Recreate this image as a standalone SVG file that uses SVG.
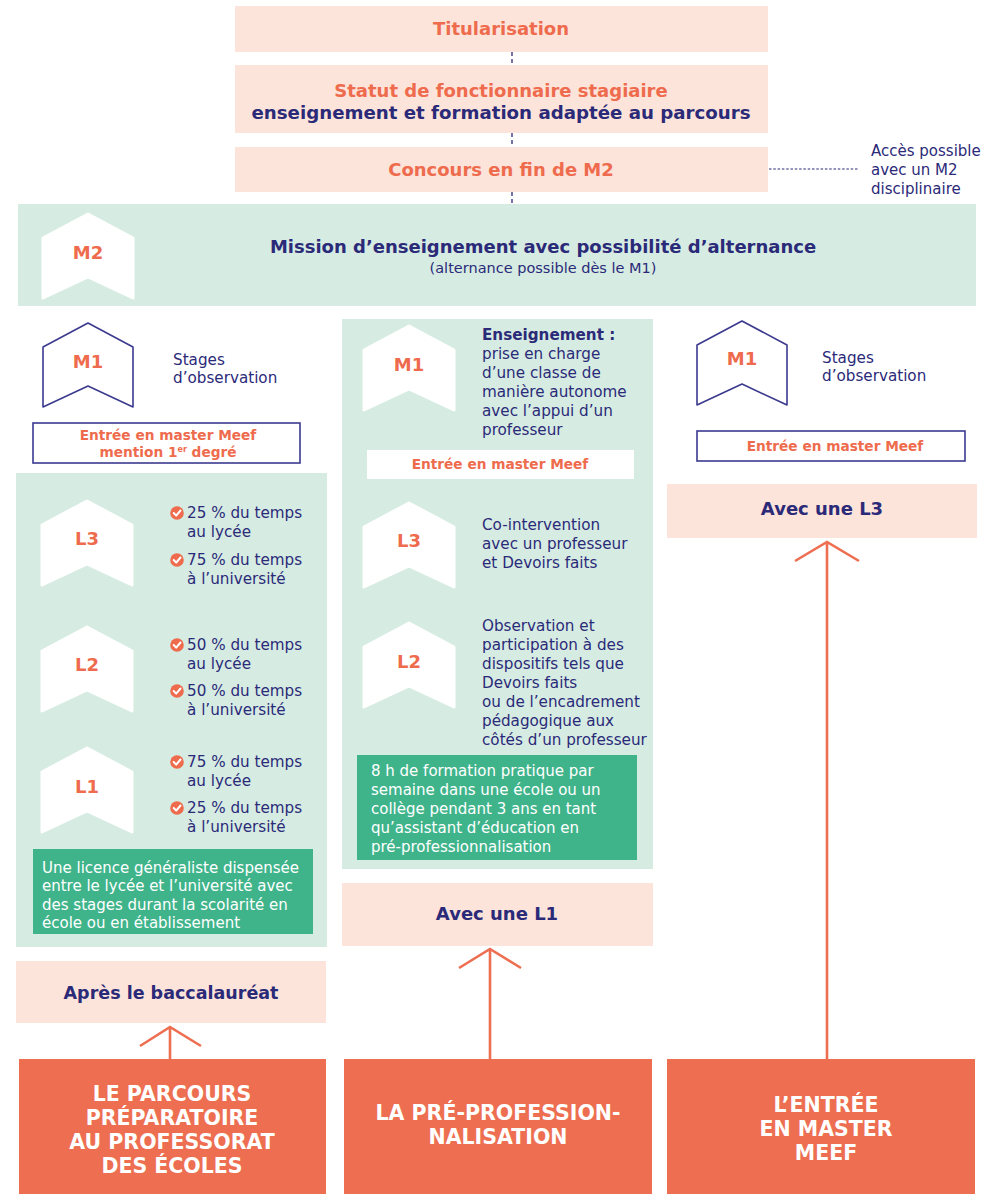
<svg xmlns="http://www.w3.org/2000/svg" width="989" height="1194" viewBox="0 0 989 1194">
<style>
.peach{fill:#fde4da}
.mint{fill:#d6ece3}
.green{fill:#3fb48b}
.coral{fill:#ed6e50}
.t{font-family:"DejaVu Sans","Liberation Sans",sans-serif}
.title{font-size:18px;font-weight:700;fill:#ee6b4d;text-anchor:middle}
.navyb{font-weight:700;fill:#2b2a78}
.body{font-size:15.2px;fill:#2b2a78}
.lbl{font-size:18px;font-weight:700;fill:#ee6b4d;text-anchor:middle}
.entry{font-size:13.7px;font-weight:700;fill:#ee6b4d;text-anchor:middle}
.wtxt{font-size:15px;fill:#ffffff}
.big{font-size:20.5px;font-weight:700;fill:#ffffff;text-anchor:middle}
.hexw{fill:#ffffff;stroke:#ffffff;stroke-width:3;stroke-linejoin:round}
.hexo{fill:none;stroke:#3b3a8f;stroke-width:1.6;stroke-linejoin:round}
.dash{stroke:#2b2a78;stroke-width:1.3;stroke-dasharray:4 3;fill:none}
.arr{stroke:#ed6e50;stroke-width:2.6;fill:none}
.chk{fill:#ee6b4d}
</style>
<defs>
<path id="hex" d="M0,0 L45,24 L45,84 L0,63 L-45,84 L-45,24 Z"/>
<g id="check"><circle r="6.8" class="chk"/><path d="M-3.3,0 L-0.8,2.6 L3.5,-2.5" stroke="#fff" stroke-width="2" fill="none" stroke-linecap="round" stroke-linejoin="round"/></g>
</defs>

<g id="panels">
<rect x="18" y="204" width="958" height="102" class="mint"/>
<rect x="16" y="473" width="311" height="474" class="mint"/>
<rect x="342" y="319" width="311" height="550" class="mint"/>
</g>

<g id="connectors">
<line x1="512" y1="52" x2="512" y2="65" class="dash"/>
<line x1="512" y1="133" x2="512" y2="147" class="dash"/>
<line x1="512" y1="192" x2="512" y2="204" class="dash"/>
<line x1="769" y1="169" x2="858" y2="169" stroke="#2b2a78" stroke-width="1.2" stroke-dasharray="2.5 1.8"/>
<path d="M170,1059 V1027 M140,1046 L170,1027 L201,1046" class="arr"/>
<path d="M490,1059 V949 M459,968 L490,949 L521,968" class="arr"/>
<path d="M827,1059 V542 M795,561 L827,542 L859,561" class="arr"/>
</g>

<g id="titularisation">
<rect x="235" y="6" width="533" height="46" class="peach"/>
<text x="501" y="35" class="t title">Titularisation</text>
</g>
<g id="statut">
<rect x="235" y="65" width="533" height="68" class="peach"/>
<text x="501" y="97" class="t title" font-size="17.1">Statut de fonctionnaire stagiaire</text>
<text x="501" y="119" class="t navyb" font-size="18.2" text-anchor="middle">enseignement et formation adaptée au parcours</text>
</g>
<g id="concours">
<rect x="235" y="147" width="533" height="45" class="peach"/>
<text x="501" y="176" class="t title">Concours en fin de M2</text>
</g>
<g id="acces">
<text class="t" font-size="15" fill="#2b2a78"><tspan x="871" y="156">Accès possible</tspan><tspan x="871" y="175">avec un M2</tspan><tspan x="871" y="194">disciplinaire</tspan></text>
</g>

<g id="m2">
<use href="#hex" x="88" y="214" class="hexw"/>
<text x="88" y="259" class="t lbl">M2</text>
<text x="543" y="253" class="t navyb" font-size="18" text-anchor="middle">Mission d’enseignement avec possibilité d’alternance</text>
<text x="543" y="273" class="t" font-size="14.5" fill="#2b2a78" text-anchor="middle">(alternance possible dès le M1)</text>
</g>

<g id="left-m1">
<use href="#hex" x="88" y="323" class="hexo"/>
<text x="88" y="368" class="t lbl">M1</text>
<text class="t body"><tspan x="173" y="365">Stages</tspan><tspan x="173" y="383">d’observation</tspan></text>
</g>
<g id="left-entree">
<rect x="33" y="423" width="267" height="40" fill="#fff" stroke="#3b3a8f" stroke-width="1.6"/>
<text class="t entry"><tspan x="168" y="440">Entrée en master Meef</tspan><tspan x="168" y="457">mention 1<tspan font-size="8" dy="-5">er</tspan><tspan dy="5"> degré</tspan></tspan></text>
</g>
<g id="left-l3">
<use href="#hex" x="87" y="501" class="hexw"/>
<text x="87" y="545" class="t lbl">L3</text>
<use href="#check" x="177" y="513"/>
<use href="#check" x="177" y="560"/>
<text class="t body"><tspan x="187" y="518">25 % du temps</tspan><tspan x="187" y="537">au lycée</tspan><tspan x="187" y="565">75 % du temps</tspan><tspan x="187" y="584">à l’université</tspan></text>
</g>
<g id="left-l2">
<use href="#hex" x="87" y="627" class="hexw"/>
<text x="87" y="671" class="t lbl">L2</text>
<use href="#check" x="177" y="645"/>
<use href="#check" x="177" y="691"/>
<text class="t body"><tspan x="187" y="650">50 % du temps</tspan><tspan x="187" y="669">au lycée</tspan><tspan x="187" y="696">50 % du temps</tspan><tspan x="187" y="715">à l’université</tspan></text>
</g>
<g id="left-l1">
<use href="#hex" x="87" y="748" class="hexw"/>
<text x="87" y="793" class="t lbl">L1</text>
<use href="#check" x="177" y="762"/>
<use href="#check" x="177" y="808"/>
<text class="t body"><tspan x="187" y="767">75 % du temps</tspan><tspan x="187" y="786">au lycée</tspan><tspan x="187" y="813">25 % du temps</tspan><tspan x="187" y="832">à l’université</tspan></text>
</g>
<g id="left-licence">
<rect x="33" y="849" width="280" height="85" class="green"/>
<text class="t wtxt"><tspan x="42" y="873">Une licence généraliste dispensée</tspan><tspan x="42" y="891">entre le lycée et l’université avec</tspan><tspan x="42" y="910">des stages durant la scolarité en</tspan><tspan x="42" y="928">école ou en établissement</tspan></text>
</g>
<g id="apres-bac">
<rect x="16" y="961" width="310" height="62" class="peach"/>
<text x="171" y="999" class="t navyb" font-size="17.5" text-anchor="middle">Après le baccalauréat</text>
</g>

<g id="mid-m1">
<use href="#hex" x="409" y="326" class="hexw"/>
<text x="409" y="371" class="t lbl">M1</text>
<text class="t body"><tspan x="482" y="340" font-weight="700">Enseignement :</tspan><tspan x="482" y="359">prise en charge</tspan><tspan x="482" y="378">d’une classe de</tspan><tspan x="482" y="397">manière autonome</tspan><tspan x="482" y="416">avec l’appui d’un</tspan><tspan x="482" y="435">professeur</tspan></text>
</g>
<g id="mid-entree">
<rect x="367" y="450" width="267" height="29" fill="#fff"/>
<text x="500" y="469" class="t entry">Entrée en master Meef</text>
</g>
<g id="mid-l3">
<use href="#hex" x="409" y="503" class="hexw"/>
<text x="409" y="547" class="t lbl">L3</text>
<text class="t body"><tspan x="482" y="530">Co-intervention</tspan><tspan x="482" y="549">avec un professeur</tspan><tspan x="482" y="568">et Devoirs faits</tspan></text>
</g>
<g id="mid-l2">
<use href="#hex" x="409" y="623" class="hexw"/>
<text x="409" y="668" class="t lbl">L2</text>
<text class="t body"><tspan x="482" y="631">Observation et</tspan><tspan x="482" y="650">participation à des</tspan><tspan x="482" y="669">dispositifs tels que</tspan><tspan x="482" y="688">Devoirs faits</tspan><tspan x="482" y="707">ou de l’encadrement</tspan><tspan x="482" y="726">pédagogique aux</tspan><tspan x="482" y="745">côtés d’un professeur</tspan></text>
</g>
<g id="mid-formation">
<rect x="357" y="755" width="280" height="105" class="green"/>
<text class="t wtxt"><tspan x="371" y="776">8 h de formation pratique par</tspan><tspan x="371" y="795">semaine dans une école ou un</tspan><tspan x="371" y="814">collège pendant 3 ans en tant</tspan><tspan x="371" y="833">qu’assistant d’éducation en</tspan><tspan x="371" y="852">pré-professionnalisation</tspan></text>
</g>
<g id="avec-l1">
<rect x="342" y="883" width="311" height="63" class="peach"/>
<text x="497" y="920" class="t navyb" font-size="18" text-anchor="middle">Avec une L1</text>
</g>

<g id="right-m1">
<use href="#hex" x="742" y="321" class="hexo"/>
<text x="742" y="365" class="t lbl">M1</text>
<text class="t body"><tspan x="822" y="363">Stages</tspan><tspan x="822" y="381">d’observation</tspan></text>
</g>
<g id="right-entree">
<rect x="697" y="431" width="268" height="30" fill="#fff" stroke="#3b3a8f" stroke-width="1.6"/>
<text x="835" y="451" class="t entry">Entrée en master Meef</text>
</g>
<g id="avec-l3">
<rect x="667" y="484" width="310" height="54" class="peach"/>
<text x="822" y="515" class="t navyb" font-size="18" text-anchor="middle">Avec une L3</text>
</g>

<g id="parcours-prepa">
<rect x="19" y="1059" width="307" height="135" class="coral"/>
<text class="t big"><tspan x="172" y="1101">LE PARCOURS</tspan><tspan x="172" y="1125">PRÉPARATOIRE</tspan><tspan x="172" y="1149">AU PROFESSORAT</tspan><tspan x="172" y="1173">DES ÉCOLES</tspan></text>
</g>
<g id="pre-pro">
<rect x="344" y="1059" width="308" height="135" class="coral"/>
<text class="t big"><tspan x="498" y="1120">LA PRÉ-PROFESSION-</tspan><tspan x="498" y="1144">NALISATION</tspan></text>
</g>
<g id="entree-meef">
<rect x="667" y="1059" width="308" height="135" class="coral"/>
<text class="t big"><tspan x="826" y="1112">L’ENTRÉE</tspan><tspan x="826" y="1136">EN MASTER</tspan><tspan x="826" y="1160">MEEF</tspan></text>
</g>
</svg>
